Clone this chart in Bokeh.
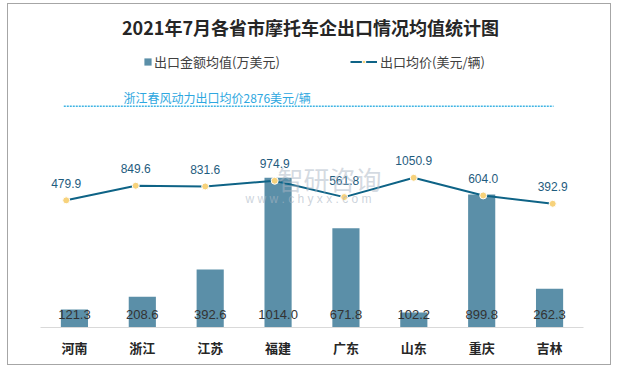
from bokeh.plotting import figure
from bokeh.models import Range1d, ColumnDataSource, Legend, LegendItem, Label, FixedTicker
from bokeh.embed import file_html
from bokeh.resources import INLINE

provinces = ["河南", "浙江", "江苏", "福建", "广东", "山东", "重庆", "吉林"]
export_value = [121.3, 208.6, 392.6, 1014.0, 671.8, 102.2, 899.8, 262.3]
avg_price = [479.9, 849.6, 831.6, 974.9, 561.8, 1050.9, 604.0, 392.9]

title_text = "2021年7月各省市摩托车企出口情况均值统计图"
bar_name = "出口金额均值(万美元)"
line_name = "出口均价(美元/辆)"
note_text = "浙江春风动力出口均价2876美元/辆"
watermark_cn = "智研咨询"
watermark_url = "w w w . c h y x x . c o m"

FONT = "Noto Sans CJK SC"

positions = list(range(len(provinces)))
src = ColumnDataSource(dict(
    idx=positions,
    val=export_value,
    val_lbl=[f"{v:.1f}" for v in export_value],
    price=avg_price,
    price_lbl=[f"{v:.1f}" for v in avg_price],
))

p = figure(width=604, height=362, x_range=Range1d(-0.5, len(provinces) - 0.5), y_range=Range1d(0, 2187),
           output_backend="svg", toolbar_location=None, title=None,
           min_border_left=32, min_border_right=29, min_border_top=0, min_border_bottom=39,
           y_axis_location=None)
p.outline_line_color = None
p.grid.visible = False
p.background_fill_color = "white"
p.border_fill_color = "white"
p.styles = {"border": "1px solid #a6a6a6", "margin-left": "7px", "margin-top": "3px"}

p.extra_y_ranges = {"price": Range1d(-2739, 5437)}
p.extra_x_ranges = {"idx": Range1d(-0.370, 7.443)}

bars = p.vbar(x="idx", top="val", width=0.4, source=src, fill_color="#5b8fa8", line_color=None)
line = p.line(x="idx", y="price", source=src, x_range_name="idx", y_range_name="price",
              line_color="#0e6386", line_width=2)
pts = p.scatter(x="idx", y="price", source=src, x_range_name="idx", y_range_name="price",
                size=7, fill_color="#f7d27b", line_color="white", line_width=1)

p.text(x="idx", y="price", text="price_lbl", source=src, x_range_name="idx", y_range_name="price",
       text_align="center", text_baseline="middle", y_offset=-17,
       text_font_size="12px", text_color="#1f5c7e")
p.text(x="idx", y=0, text="val_lbl", source=src,
       text_align="center", text_baseline="middle", y_offset=-13,
       text_font_size="13px", text_color="#333333")

# watermark
p.add_layout(Label(x=3.04, y=1009, x_range_name="idx", text=watermark_cn, text_font=FONT,
                   text_font_size="26px", text_color="#aab6c4", text_alpha=0.5,
                   text_align="left", text_baseline="middle"))
p.add_layout(Label(x=3.486, y=873, x_range_name="idx", text=watermark_url,
                   text_font_size="12px", text_color="#aab6c4", text_alpha=0.6,
                   text_align="center", text_baseline="middle"))

# title
p.add_layout(Label(x=3.515, y=2038, x_range_name="idx", text=title_text, text_font=FONT,
                   text_font_style="bold", text_font_size="18px", text_color="#262626",
                   text_align="center", text_baseline="middle"))

# note + dotted line
p.add_layout(Label(x=0.824, y=1559, x_range_name="idx", text=note_text, text_font=FONT,
                   text_font_size="12px", text_color="#2ea7e0",
                   text_align="left", text_baseline="middle"))
p.segment(x0=-0.035, y0=1498, x1=7.012, y1=1498, x_range_name="idx",
          line_color="#3fb4e3", line_width=1.5, line_dash="2 1")

# legends
leg1 = Legend(items=[LegendItem(label=bar_name, renderers=[bars])], location=(103, 256),
              glyph_width=9, glyph_height=9, label_standoff=2, padding=0, margin=0,
              border_line_color=None, background_fill_alpha=0,
              label_text_font=FONT, label_text_font_size="13px", label_text_color="#404040")
leg2 = Legend(items=[LegendItem(label=line_name, renderers=[line, pts])], location=(310, 256),
              glyph_width=27, glyph_height=9, label_standoff=3, padding=0, margin=0,
              border_line_color=None, background_fill_alpha=0,
              label_text_font=FONT, label_text_font_size="13px", label_text_color="#404040")
p.add_layout(leg1)
p.add_layout(leg2)

ax = p.xaxis[0]
ax.ticker = FixedTicker(ticks=positions)
ax.major_label_overrides = {i: name for i, name in zip(positions, provinces)}
ax.major_label_text_font = FONT
ax.major_label_text_font_size = "13px"
ax.major_label_text_font_style = "bold"
ax.major_label_text_color = "#262626"
ax.major_tick_line_color = None
ax.minor_tick_line_color = None
ax.axis_line_color = "#d9d9d9"
ax.major_label_standoff = 4

open("out.html", "w").write(file_html(p, INLINE))
